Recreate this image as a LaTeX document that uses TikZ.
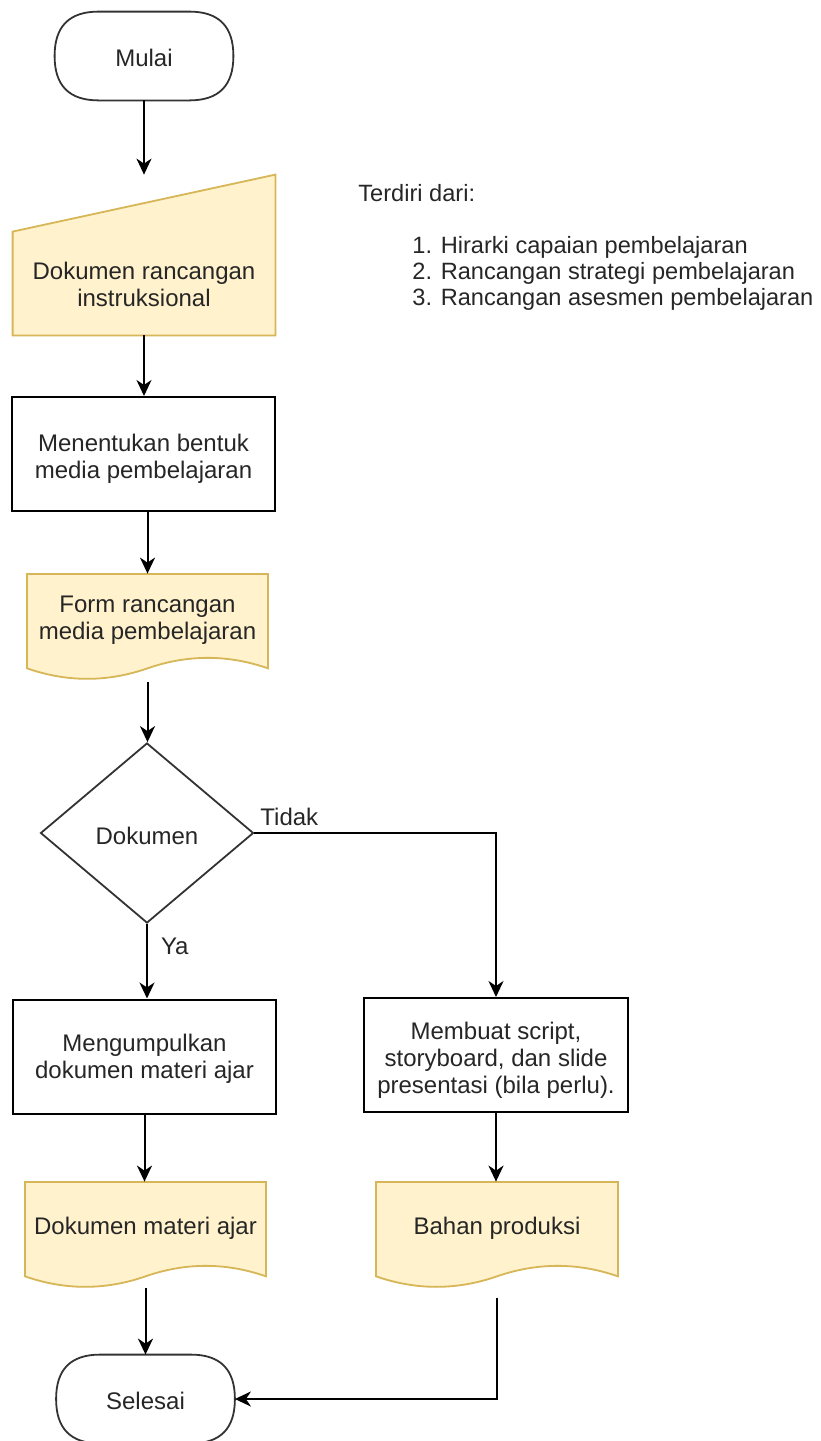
\documentclass[tikz,border=0pt]{standalone}
\usepackage{fontspec}
\setmainfont{Liberation Sans}
\usetikzlibrary{arrows.meta,shapes.geometric,calc}
\definecolor{docfill}{HTML}{FFF2CC}
\definecolor{docline}{HTML}{D6B656}
\definecolor{txt}{HTML}{262626}
\definecolor{edgec}{HTML}{333333}
% document shape: name, x, y, w, h (px), text
\newcommand\mydoc[6]{%
 \node[bbox, minimum width={#4*0.5pt}, minimum height={#5*0.5pt}] (#1) at ({#2+0.5*#4},{#3+0.5*#5}) {};
 \filldraw[docst] (#2,#3) -- ({#2+#4},#3) -- ({#2+#4},{#3+0.89*#5})
   .. controls ({#2+0.8333*#4},{#3+0.758*#5}) and ({#2+0.6667*#4},{#3+0.758*#5}) .. ({#2+0.5*#4},{#3+0.89*#5})
   .. controls ({#2+0.3333*#4},{#3+1.022*#5}) and ({#2+0.1667*#4},{#3+1.022*#5}) .. (#2,{#3+0.89*#5}) -- cycle;
 \node[lbl, align=center] (#1-t) at ([yshift=3.5pt]#1.center) {#6};
}
% terminator: name, x, y (px), text
\newcommand\myterm[4]{%
 \node[bbox, minimum width=89pt, minimum height=44pt] (#1) at (#2,#3) {};
 \draw[termline] ([xshift=22pt]#1.north west) -- ([xshift=-22pt]#1.north east)
   .. controls ([xshift=-7.33pt]#1.north east) and ([yshift=-7.33pt]#1.north east) .. (#1.east)
   .. controls ([yshift=7.33pt]#1.south east) and ([xshift=-7.33pt]#1.south east) .. ([xshift=-22pt]#1.south east)
   -- ([xshift=22pt]#1.south west)
   .. controls ([xshift=7.33pt]#1.south west) and ([yshift=7.33pt]#1.south west) .. (#1.west)
   .. controls ([yshift=-7.33pt]#1.north west) and ([xshift=7.33pt]#1.north west) .. cycle;
 \node[lbl] (#1-t) at ([yshift=-1.2pt]#1.center) {#4};
}
% process: name, x, y (px), width (pt), text, text shift
\newcommand\myproc[6]{%
 \node[procbox, minimum width=#4] (#1) at (#2,#3) {};
 \node[lbl, align=center] (#1-t) at ([yshift=#6]#1.center) {#5};
}
\begin{document}
\begin{tikzpicture}[x=0.5pt,y=-0.5pt,
 lbl/.style={font=\fontsize{12}{13.5}\selectfont, text=txt},
 note/.style={font=\fontsize{11.8}{13}\selectfont, text=txt, anchor=base west, inner sep=0pt},
 procbox/.style={draw=black, line width=1pt, fill=white, inner sep=0pt, minimum height=57pt},
 termline/.style={draw=edgec, line width=0.9pt},
 dec/.style={diamond, draw=edgec, line width=0.9pt, inner sep=0pt, minimum width=106.5pt, minimum height=90pt},
 bbox/.style={inner sep=0pt, draw=none},
 docst/.style={fill=docfill, draw=docline, line width=0.9pt},
 arr/.style={draw=black, line width=1pt, -{Stealth[length=8pt,width=7.5pt,inset=2.5pt]}}
]
\useasboundingbox (0,0) rectangle (820,1441);

% start
\myterm{mulai}{144}{56}{Mulai}

% manual input
\node[bbox, minimum width=131pt, minimum height=80pt] (mi) at (144,255) {};
\filldraw[docst] ([yshift=-28.5pt]mi.north west) -- (mi.north east) -- (mi.south east) -- (mi.south west) -- cycle;
\node[lbl, align=center] (mi-t) at ([yshift=-14.5pt]mi.center) {Dokumen rancangan\\instruksional};

% process
\myproc{men}{143.5}{454}{131.5pt}{Menentukan bentuk\\media pembelajaran}{-2.3pt}

% form document
\mydoc{form}{27}{574}{241}{106}{Form rancangan\\media pembelajaran}

% decision
\node[dec] (dec) at (147,833) {};
\node[lbl] (dec-t) at ([yshift=-1.5pt]dec.center) {Dokumen};

% processes
\myproc{meng}{144.5}{1056.5}{131.5pt}{Mengumpulkan\\dokumen materi ajar}{-1pt}
\myproc{mem}{496}{1055}{132pt}{Membuat script,\\storyboard, dan slide\\presentasi (bila perlu).}{-2.8pt}

% documents
\mydoc{doc1}{25}{1182}{241}{106}{Dokumen materi ajar}
\mydoc{doc2}{376}{1182}{242}{106}{Bahan produksi}

% end
\myterm{sel}{145.5}{1399}{Selesai}

% notes
\node[note] (head) at (358,201.5) {Terdiri dari:};
\node[note] (li1) at (412,253.5) {1. Hirarki capaian pembelajaran};
\node[note] (li2) at (412,279.5) {2. Rancangan strategi pembelajaran};
\node[note] (li3) at (412,305.5) {3. Rancangan asesmen pembelajaran};

% connectors
\draw[arr] (mulai.south) -- (mi.north);
\draw[arr] (mi.south) -- (mi.south |- men.north);
\draw[arr] (men.south -| form.north) -- (form.north);
\draw[arr] ([yshift=-1pt]form.south) -- (form.south |- dec.north);
\draw[arr] (dec.south) -- (dec.south |- meng.north)
  node[pos=0, anchor=north west, inner sep=0pt, xshift=6.5pt, yshift=-6.75pt, lbl] (ya) {Ya};
\draw[arr] (dec.east) -| (mem.north)
  node[pos=0, anchor=south west, inner sep=0pt, xshift=2.5pt, yshift=3.25pt, lbl] (tidak) {Tidak};
\draw[arr] (mem.south) -- (mem.south |- doc2.north);
\draw[arr] (meng.south) -- (meng.south |- doc1.north);
\draw[arr] (doc1.south) -- (doc1.south |- sel.north);
\draw[arr] ([yshift=-5pt]doc2.south) |- (sel.east);
\end{tikzpicture}
\end{document}
